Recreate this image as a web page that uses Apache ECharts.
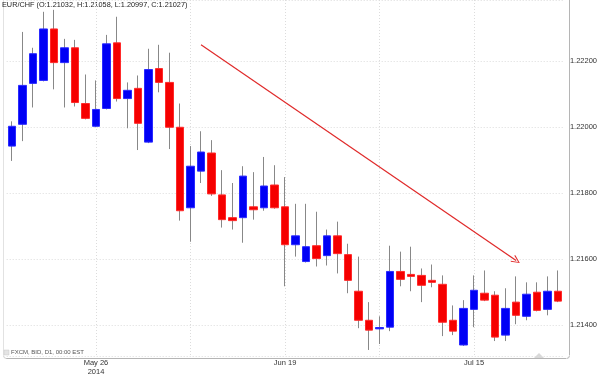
<!DOCTYPE html>
<html>
<head>
<meta charset="utf-8">
<script src="https://cdn.jsdelivr.net/npm/echarts/dist/echarts.min.js"></script>
<style>
  html, body { margin: 0; padding: 0; background: #fff; }
  #main { width: 600px; height: 376px; }
</style>
</head>
<body>
<div id="main"></div>
<script>
// 交易日 (EUR/CHF 日线)
var dates = ['May 14','May 15','May 16','May 19','May 20','May 21','May 22','May 23','May 26','May 27',
  'May 28','May 29','May 30','Jun 2','Jun 3','Jun 4','Jun 5','Jun 6','Jun 9','Jun 10',
  'Jun 11','Jun 12','Jun 13','Jun 16','Jun 17','Jun 18','Jun 19','Jun 20','Jun 23','Jun 24',
  'Jun 25','Jun 26','Jun 27','Jun 30','Jul 1','Jul 2','Jul 3','Jul 4','Jul 7','Jul 8',
  'Jul 9','Jul 10','Jul 11','Jul 14','Jul 15','Jul 16','Jul 17','Jul 18','Jul 21','Jul 22',
  'Jul 23','Jul 24','Jul 25'];

var opens = [1.21942, 1.22008, 1.22132, 1.22141, 1.22297, 1.22195, 1.22240, 1.22071, 1.22002, 1.22056,
  1.22255, 1.22086, 1.22117, 1.21954, 1.22177, 1.22135, 1.21999, 1.21755, 1.21866, 1.21921,
  1.21794, 1.21725, 1.21725, 1.21758, 1.21755, 1.21824, 1.21758, 1.21643, 1.21592, 1.21640,
  1.21610, 1.21670, 1.21613, 1.21502, 1.21414, 1.21388, 1.21393, 1.21562, 1.21553, 1.21550,
  1.21535, 1.21523, 1.21414, 1.21339, 1.21447, 1.21496, 1.21490, 1.21369, 1.21469, 1.21426,
  1.21499, 1.21447, 1.21502];
var closes = [1.22002, 1.22126, 1.22222, 1.22297, 1.22195, 1.22240, 1.22074, 1.22026, 1.22053, 1.22252,
  1.22086, 1.22111, 1.22011, 1.22174, 1.22135, 1.21999, 1.21746, 1.21881, 1.21924, 1.21797,
  1.21719, 1.21716, 1.21851, 1.21749, 1.21821, 1.21755, 1.21643, 1.21670, 1.21637, 1.21601,
  1.21670, 1.21616, 1.21535, 1.21414, 1.21384, 1.21392, 1.21562, 1.21538, 1.21547, 1.21520,
  1.21529, 1.21408, 1.21381, 1.21450, 1.21505, 1.21475, 1.21363, 1.21450, 1.21429, 1.21493,
  1.21444, 1.21502, 1.21472];
var lows = [1.21897, 1.21957, 1.22059, 1.22138, 1.22114, 1.22059, 1.22062, 1.22023, 1.21999, 1.22053,
  1.22077, 1.21996, 1.21930, 1.21951, 1.22105, 1.21933, 1.21716, 1.21652, 1.21830, 1.21791,
  1.21695, 1.21689, 1.21649, 1.21719, 1.21746, 1.21752, 1.21517, 1.21607, 1.21589, 1.21577,
  1.21580, 1.21556, 1.21496, 1.21390, 1.21324, 1.21342, 1.21381, 1.21517, 1.21502, 1.21469,
  1.21514, 1.21366, 1.21369, 1.21336, 1.21393, 1.21472, 1.21351, 1.21351, 1.21402, 1.21414,
  1.21441, 1.21429, 1.21469];
var highs = [1.22017, 1.22288, 1.22240, 1.22349, 1.22355, 1.22267, 1.22264, 1.22159, 1.22141, 1.22279,
  1.22334, 1.22135, 1.22156, 1.22237, 1.22249, 1.22225, 1.22071, 1.21942, 1.21987, 1.21960,
  1.21869, 1.21830, 1.21881, 1.21863, 1.21909, 1.21884, 1.21848, 1.21767, 1.21767, 1.21743,
  1.21689, 1.21713, 1.21646, 1.21607, 1.21469, 1.21426, 1.21640, 1.21622, 1.21637, 1.21571,
  1.21583, 1.21550, 1.21459, 1.21475, 1.21550, 1.21565, 1.21502, 1.21511, 1.21547, 1.21529,
  1.21529, 1.21547, 1.21565];

// 趋势线 (起点/终点)
var trendStart = [18, 1.22249];
var trendEnd = [48, 1.21595];

var FONT = '"Liberation Sans", Arial, sans-serif';

var chart = echarts.init(document.getElementById('main'));

var wickData = dates.map(function (d, i) {
  return [opens[i], closes[i], lows[i], highs[i]];
});
var bodyData = dates.map(function (d, i) {
  return [opens[i], closes[i], Math.min(opens[i], closes[i]), Math.max(opens[i], closes[i])];
});

var option = {
  animation: false,
  backgroundColor: '#fff',
  grid: { left: 6.7, right: 34.7, top: 0, bottom: 18 },
  xAxis: {
    type: 'category',
    data: dates,
    boundaryGap: true,
    axisLine: { show: false },
    axisTick: { show: false },
    axisLabel: {
      interval: function (i) { return i % 18 === 8; },
      formatter: function (v, i) { return i === 8 ? v + '\n2014' : v; },
      color: '#333',
      fontSize: 7.5,
      lineHeight: 9,
      margin: 2,
      fontFamily: FONT
    },
    splitLine: {
      show: true,
      alignWithLabel: true,
      interval: function (i) { return i % 9 === 8; },
      lineStyle: { color: '#dcdcdc', type: [1, 2], width: 1 }
    }
  },
  yAxis: {
    type: 'value',
    position: 'right',
    min: 1.213057,
    max: 1.223848,
    splitNumber: 5,
    axisLine: { show: false },
    axisTick: { show: false },
    axisLabel: {
      showMinLabel: false,
      showMaxLabel: false,
      formatter: function (v) { return v.toFixed(5); },
      color: '#333',
      fontSize: 7.5,
      margin: 6.5,
      fontFamily: FONT
    },
    splitLine: { show: true, lineStyle: { color: '#dcdcdc', type: [1, 2], width: 1 } }
  },
  series: [
    {
      name: 'wick',
      type: 'candlestick',
      data: wickData,
      barWidth: 1,
      silent: true,
      itemStyle: {
        color: '#888', color0: '#888',
        borderColor: '#888', borderColor0: '#888',
        borderWidth: 1
      },
      markLine: {
        silent: true,
        symbol: ['none', 'path://M5,0 L10,9 L9,10 L5,2.2 L1,10 L0,9 Z'],
        symbolSize: [8, 9],
        label: { show: false },
        lineStyle: { color: '#e02a2a', width: 1.2, type: 'solid' },
        data: [[{ coord: trendStart }, { coord: trendEnd }]]
      }
    },
    {
      name: 'EUR/CHF',
      type: 'candlestick',
      data: bodyData,
      barWidth: 8,
      itemStyle: {
        color: '#0000f5', color0: '#f50000',
        borderColor: '#2a2aff', borderColor0: '#ff2a2a',
        borderWidth: 1
      }
    }
  ],
  graphic: [
    { type: 'line', silent: true, shape: { x1: 3.5, y1: 0, x2: 3.5, y2: 355 }, style: { stroke: '#e2e2e2', lineWidth: 1 } },
    { type: 'line', silent: true, shape: { x1: 6, y1: 358.5, x2: 566, y2: 358.5 }, style: { stroke: '#b5b5b5', lineWidth: 1 } },
    { type: 'line', silent: true, shape: { x1: 569.5, y1: 0, x2: 569.5, y2: 355 }, style: { stroke: '#b5b5b5', lineWidth: 1 } },
    { type: 'arc', silent: true, shape: { cx: 6.5, cy: 355.5, r: 3, startAngle: Math.PI / 2, endAngle: Math.PI }, style: { stroke: '#cfcfcf', fill: null, lineWidth: 1 } },
    { type: 'arc', silent: true, shape: { cx: 566.5, cy: 355.5, r: 3, startAngle: 0, endAngle: Math.PI / 2 }, style: { stroke: '#b5b5b5', fill: null, lineWidth: 1 } },
    { type: 'polygon', silent: true, shape: { points: [[534, 358], [539, 353], [544, 358]] }, style: { fill: '#d8d8d8' } },
    { type: 'text', silent: true, left: 2, top: 1, style: { text: 'EUR/CHF (O:1.21032, H:1.21058, L:1.20997, C:1.21027)', fill: '#222', font: '7.3px ' + FONT } },
    { type: 'rect', silent: true, shape: { x: 4, y: 350, width: 5, height: 5 }, style: { fill: '#e4e4e4', stroke: '#c8c8c8', lineWidth: 0.5 } },
    { type: 'text', silent: true, left: 11, top: 349.5, style: { text: 'FXCM, BID, D1, 00:00 EST', fill: '#555', font: '6px ' + FONT } }
  ]
};

chart.setOption(option);
</script>
</body>
</html>
